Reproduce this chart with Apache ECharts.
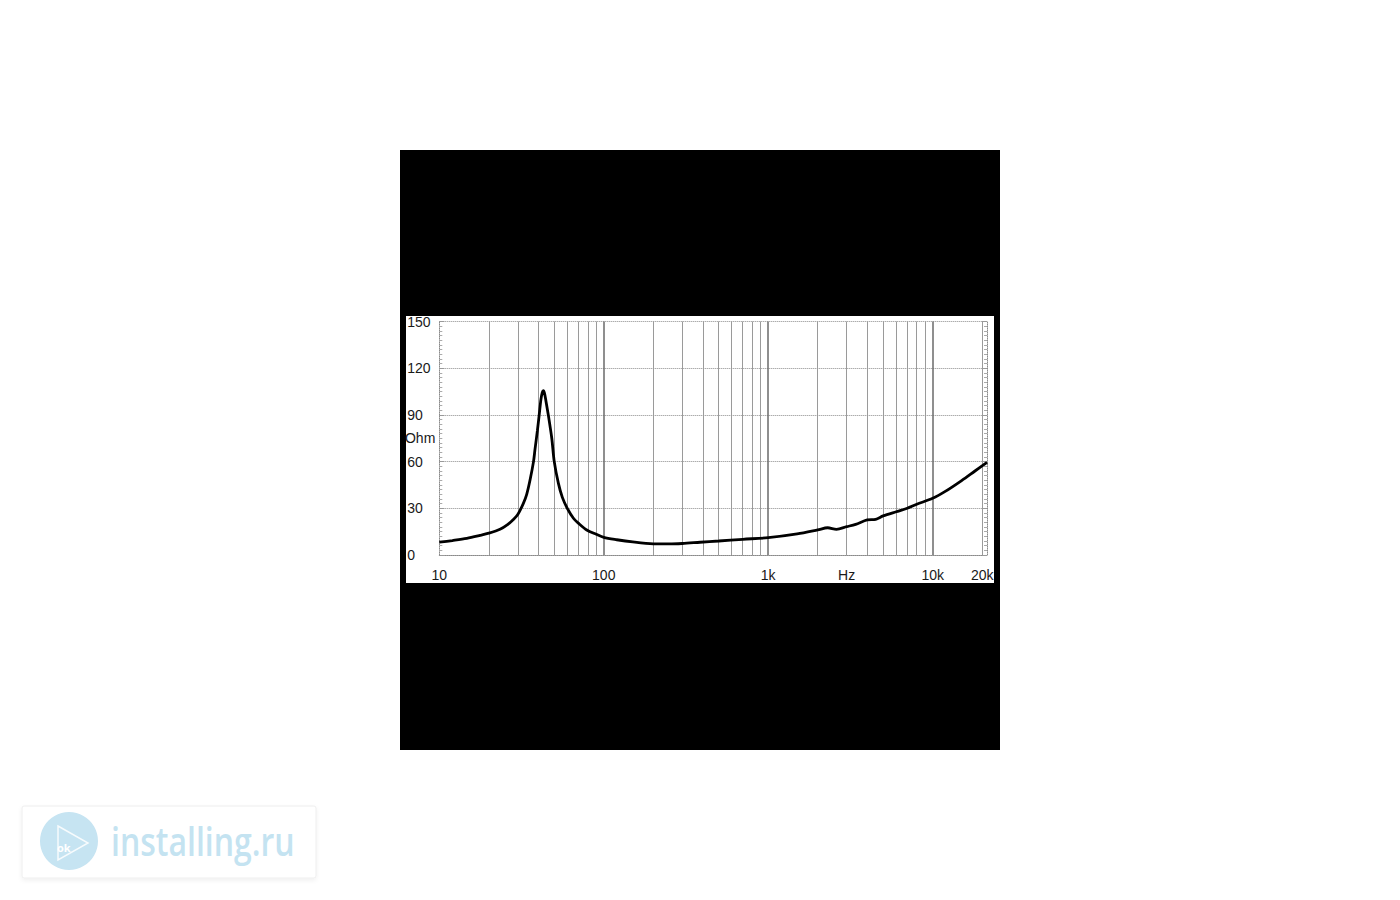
<!DOCTYPE html>
<html>
<head>
<meta charset="utf-8">
<script src="https://cdn.jsdelivr.net/npm/echarts@6/dist/echarts.min.js"></script>
<style>
html,body{margin:0;padding:0;background:#fff;}
#chart{width:1400px;height:900px;}
</style>
</head>
<body>
<div id="chart"></div>
<script>
// Frequency (Hz) and impedance (Ohm)
const freqHz = [10, 12, 14.7, 17.7, 20, 23.4, 26, 28, 30, 32.4, 34, 35.6, 37.4, 38.2, 39.5, 40.5, 41.5, 42.3, 42.9, 43.6, 44.5, 46, 48.3, 50, 53, 56, 60, 65.4, 70, 78.8, 90, 100, 120, 150, 200, 250, 300, 385, 500, 700, 1000, 1500, 2000, 2300, 2600, 3000, 3400, 4000, 4500, 5000, 6000, 7000, 8000, 10000, 12000, 15000, 18000, 21400];
const impedanceOhm = [8.2, 9.3, 10.7, 12.6, 14.0, 16.5, 19.5, 22.5, 26, 33, 39, 48, 60, 68, 80, 90, 100, 104.5, 105.5, 104, 99, 90, 75, 60, 46, 37, 30, 23.6, 20.5, 16.1, 13.3, 11.3, 9.8, 8.4, 7.2, 7.1, 7.4, 8.2, 9.0, 10.1, 11.1, 13.5, 16.1, 17.5, 16.5, 18.2, 19.7, 22.5, 22.9, 25.1, 27.8, 30.0, 32.6, 36.4, 41.0, 47.8, 53.8, 59.5];
// Axis tick labels
const xLabelValues = [10, 100, 1000, 3000, 10000, 20000];
const xLabelTexts = ['10', '100', '1k', 'Hz', '10k', '20k'];
const yTicks = [0, 30, 60, 90, 120, 150];
const yUnit = 'Ohm';
// Vertical grid lines (Hz)
const gridFreqs = [20, 30, 40, 50, 60, 70, 80, 90, 100, 200, 300, 400, 500, 600, 700, 800, 900, 1000, 2000, 3000, 4000, 5000, 6000, 7000, 8000, 9000, 10000, 20000];
const majorFreqs = [100, 1000, 10000];
const watermarkText = 'installing.ru';

const chart = echarts.init(document.getElementById('chart'), null, {renderer: 'svg', width: 1400, height: 900});

const labelMap = {};
xLabelValues.forEach((v, i) => { labelMap[v] = xLabelTexts[i]; });

const option = {
  animation: false,
  backgroundColor: '#ffffff',
  textStyle: {fontFamily: 'Liberation Sans, Arial, sans-serif'},
  graphic: [
    {type: 'rect', z: -20, silent: true, shape: {x: 400, y: 150, width: 600, height: 600}, style: {fill: '#000000'}},
    {type: 'rect', z: -19, silent: true, shape: {x: 406, y: 316, width: 588, height: 267}, style: {fill: '#ffffff'}},
    {type: 'rect', z: -18, silent: true, shape: {x: 22, y: 806, width: 294, height: 72, r: 2},
      style: {fill: '#ffffff', stroke: '#eeeeee', lineWidth: 1, shadowBlur: 4, shadowColor: 'rgba(0,0,0,0.06)', shadowOffsetY: 2}},
    {type: 'circle', z: -17, silent: true, shape: {cx: 69, cy: 841, r: 29}, style: {fill: '#c6e4f2'}},
    {type: 'polygon', z: -16, silent: true, shape: {points: [[58, 826], [88, 843], [58, 860]]},
      style: {fill: 'none', stroke: '#ffffff', lineWidth: 1.5, opacity: 0.85}},
    {type: 'text', z: -16, silent: true, x: 57, y: 847,
      style: {text: 'ok', fill: '#ffffff', font: 'bold 11px "Open Sans", sans-serif', align: 'left', verticalAlign: 'middle'}},
    {type: 'text', z: -16, silent: true, x: 111, y: 841, scaleX: 0.82,
      style: {text: watermarkText, fill: '#c4e3f1', font: '600 39px "Open Sans", sans-serif', align: 'left', verticalAlign: 'middle'}}
  ],
  grid: {left: 439.3, top: 321.5, width: 547.7, height: 233.5, containLabel: false, show: false},
  xAxis: {
    type: 'log',
    logBase: 10,
    min: 10,
    max: 21400,
    axisLine: {show: true, onZero: false, lineStyle: {color: '#8a8a8a', type: 'dotted', width: 1}},
    axisTick: {show: false},
    splitLine: {show: false},
    minorTick: {show: false},
    minorSplitLine: {show: false},
    axisLabel: {
      show: true,
      customValues: xLabelValues,
      margin: 13,
      fontSize: 14,
      color: '#1a1a1a',
      formatter: function (v) {
        const key = Math.round(v);
        return labelMap[key] !== undefined ? labelMap[key] : '';
      }
    }
  },
  yAxis: [
    {
      type: 'value',
      min: yTicks[0],
      max: yTicks[yTicks.length - 1],
      interval: 30,
      name: yUnit,
      nameLocation: 'middle',
      nameRotate: 0,
      nameGap: 4,
      nameMoveOverlap: false,
      nameTextStyle: {align: 'right', verticalAlign: 'middle', fontSize: 14, color: '#1a1a1a', padding: [0, 0, 6, 0]},
      axisLine: {show: true, lineStyle: {color: '#8a8a8a', type: 'dotted', width: 1}},
      axisTick: {show: true, inside: true, length: 5, lineStyle: {color: '#999'}},
      minorTick: {show: true, splitNumber: 10, length: 3, lineStyle: {color: '#aaa'}},
      axisLabel: {show: true, inside: false, align: 'left', margin: 32, fontSize: 14, color: '#1a1a1a'},
      splitLine: {show: true, lineStyle: {color: '#8a8a8a', type: 'dotted', width: 1}}
    },
    {
      type: 'value',
      position: 'right',
      min: yTicks[0],
      max: yTicks[yTicks.length - 1],
      interval: 30,
      axisLine: {show: true, lineStyle: {color: '#8a8a8a', type: 'dotted', width: 1}},
      axisTick: {show: true, inside: true, length: 5, lineStyle: {color: '#999'}},
      minorTick: {show: true, splitNumber: 10, length: 3, lineStyle: {color: '#aaa'}},
      axisLabel: {show: false},
      splitLine: {show: false}
    }
  ],
  series: [
    {
      type: 'line',
      name: 'Impedance',
      z: 10,
      data: freqHz.map((f, i) => [f, impedanceOhm[i]]),
      showSymbol: false,
      symbol: 'none',
      smooth: 0.3,
      lineStyle: {color: '#000000', width: 2.8},
      markLine: {
        silent: true,
        z: 1,
        symbol: ['none', 'none'],
        label: {show: false},
        emphasis: {disabled: true},
        data: gridFreqs.map(f => ({
          xAxis: f,
          lineStyle: {
            color: majorFreqs.indexOf(f) >= 0 ? '#6a6a6a' : '#9a9a9a',
            width: majorFreqs.indexOf(f) >= 0 ? 1.5 : 1,
            type: 'solid'
          }
        }))
      }
    }
  ]
};
chart.setOption(option);
</script>
</body>
</html>
